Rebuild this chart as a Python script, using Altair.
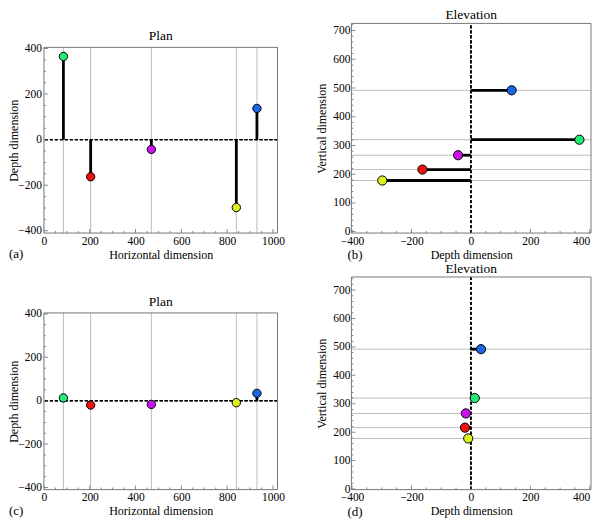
import altair as alt
import pandas as pd

FONT = "Liberation Serif"

# ---- data ----
names = ["green", "red", "purple", "yellow", "blue"]
colors = ["#22ee77", "#ee1111", "#cc11ee", "#ddf020", "#1a66e6"]
horizontal = [85, 204, 469, 840, 930]
vertical = [320, 216, 266, 178, 492]
depth_before = [365, -163, -43, -298, 137]
depth_after = [13, -20, -17, -9, 34]

horiz_ticks = [0, 200, 400, 600, 800, 1000]
depth_ticks = [-400, -200, 0, 200, 400]
vert_ticks = [0, 100, 200, 300, 400, 500, 600, 700]
horiz_minor = [v for v in range(0, 1001, 50) if v % 200]
depth_minor = [v for v in range(-400, 401, 50) if v % 200]
vert_minor = [v for v in range(0, 741, 20) if v % 100]

panel_labels = ["(a)", "(b)", "(c)", "(d)"]
panel_titles = ["Plan", "Elevation"]

# axis extents of each panel
plan_x_domain = [0, 1020]
plan_y_domain = [-410, 405]
elev_x_domain = [-402, 404]
elev_y_domain_b = [-5, 725]
elev_y_domain_d = [-2, 746]

dummy = pd.DataFrame({"d": [0]})


def make_axis(title, values, pad, title_x=None, title_y=None, label_align=None):
    kw = dict(
        title=title, values=values, grid=False, ticks=False, tickSize=0, domain=False,
        labelFont=FONT, labelFontSize=11.5, labelColor="black", labelPadding=pad,
        labelFlush=False, labelOverlap=False, format="d",
        titleFont=FONT, titleFontSize=12, titleFontWeight="normal", titleColor="black",
    )
    if title_x is not None:
        kw["titleX"] = title_x
    if title_y is not None:
        kw["titleY"] = title_y
    if label_align is not None:
        kw["labelAlign"] = label_align
    return alt.Axis(**kw)


def tick_layers(xs, xax, ys, yax, xmaj, xmin, ymaj, ymin, Hv):
    out = []
    for vals, size in ((xmaj, 8), (xmin, 4)):
        out.append(
            alt.Chart(pd.DataFrame({"v": vals}))
            .mark_tick(size=size, thickness=1, color="#555", clip=True)
            .encode(x=alt.X("v:Q", scale=xs, axis=xax), y=alt.value(Hv))
        )
    for vals, size in ((ymaj, 8), (ymin, 4)):
        out.append(
            alt.Chart(pd.DataFrame({"v": vals}))
            .mark_tick(size=size, thickness=1, color="#555", clip=True)
            .encode(y=alt.Y("v:Q", scale=ys, axis=yax), x=alt.value(0))
        )
    return out


def spacer(x1, y1, x2, y2):
    # invisible layout guide that fixes the panel's outer extent
    return alt.Chart(dummy).mark_rule(strokeOpacity=0, opacity=0).encode(
        x=alt.value(x1), x2=alt.value(x2), y=alt.value(y1), y2=alt.value(y2)
    )


def text_layer(text, x, y, size, align="left"):
    return alt.Chart(pd.DataFrame({"lab": [text]})).mark_text(
        align=align, baseline="alphabetic", font=FONT, fontSize=size, color="black"
    ).encode(text="lab:N", x=alt.value(x), y=alt.value(y))


def color_enc():
    return alt.Color("name:N", scale=alt.Scale(domain=names, range=colors), legend=None)


def frame_layer(xdom, ydom, xs, xax, ys, yax):
    fdf = pd.DataFrame({"x0": [xdom[0]], "x1": [xdom[1]], "y0": [ydom[0]], "y1": [ydom[1]]})
    return alt.Chart(fdf).mark_rect(fill="white", fillOpacity=0, stroke="#777", strokeWidth=1).encode(
        x=alt.X("x0:Q", scale=xs, axis=xax), x2="x1:Q",
        y=alt.Y("y0:Q", scale=ys, axis=yax), y2="y1:Q",
    )


def plan_panel(depth, label, Hv, ft, Hf):
    W = 234
    xs = alt.Scale(domain=plan_x_domain, nice=False, zero=False)
    ys = alt.Scale(domain=plan_y_domain, range=[ft + Hf, ft], nice=False, zero=False)
    xax = make_axis("Horizontal dimension", horiz_ticks, 2, title_y=16)
    yax = make_axis("Depth dimension", depth_ticks, 2.5, title_x=-23, title_y=ft + Hf / 2)
    df = pd.DataFrame({
        "name": names, "horiz": horizontal, "depth": depth, "zero": 0,
        "ylo": plan_y_domain[0], "yhi": plan_y_domain[1],
    })
    base = alt.Chart(df)
    X = alt.X("horiz:Q", scale=xs, axis=xax)
    grid = base.mark_rule(color="#bdbdbd", strokeWidth=1).encode(
        x=X, y=alt.Y("ylo:Q", scale=ys, axis=yax), y2="yhi:Q"
    )
    zero = base.mark_rule(color="black", strokeDash=[3, 2], strokeWidth=1).encode(
        y=alt.Y("zero:Q", scale=ys, axis=yax)
    )
    stems = base.mark_rule(color="black", strokeWidth=2.8).encode(
        x=X, y=alt.Y("zero:Q", scale=ys, axis=yax), y2="depth:Q"
    )
    pts = base.mark_circle(size=70, opacity=1, stroke="black", strokeWidth=1).encode(
        x=X, y=alt.Y("depth:Q", scale=ys, axis=yax), color=color_enc()
    )
    layers = [grid, zero, stems, pts]
    layers += tick_layers(xs, xax, ys, yax, horiz_ticks, horiz_minor, depth_ticks, depth_minor, Hv)
    layers.append(frame_layer(plan_x_domain, plan_y_domain, xs, xax, ys, yax))
    layers.append(text_layer(panel_titles[0], W / 2, ft - 7, 13.5, "center"))
    layers.append(text_layer(label, -35, Hv + 25, 13))
    layers.append(spacer(-35, -15, 255, Hv + 29))
    return alt.layer(*layers).properties(width=W, height=Hv)


def elev_panel(depth, label, Hv, ydom):
    W = 240
    xs = alt.Scale(domain=elev_x_domain, nice=False, zero=False)
    ys = alt.Scale(domain=ydom, range=[Hv, 0], nice=False, zero=False)
    last_right = {"condition": {"test": "datum.value >= 400", "value": "right"}, "value": "center"}
    xax = make_axis("Depth dimension", depth_ticks, 2, title_y=16, label_align=last_right)
    yax = make_axis("Vertical dimension", vert_ticks, 1.5, title_x=-23, title_y=Hv / 2)
    df = pd.DataFrame({
        "name": names, "vert": vertical, "depth": depth, "zero": 0,
        "xlo": elev_x_domain[0], "xhi": elev_x_domain[1],
        "ylo": ydom[0], "yhi": ydom[1],
    })
    base = alt.Chart(df)
    Y = alt.Y("vert:Q", scale=ys, axis=yax)
    grid = base.mark_rule(color="#bdbdbd", strokeWidth=1).encode(
        y=Y, x=alt.X("xlo:Q", scale=xs, axis=xax), x2="xhi:Q"
    )
    zero = base.mark_rule(color="black", strokeDash=[3, 2], strokeWidth=1).encode(
        x=alt.X("zero:Q", scale=xs, axis=xax), y=alt.Y("ylo:Q", scale=ys, axis=yax), y2="yhi:Q"
    )
    stems = base.mark_rule(color="black", strokeWidth=2.8).encode(
        y=Y, x=alt.X("zero:Q", scale=xs, axis=xax), x2="depth:Q"
    )
    pts = base.mark_circle(size=85, opacity=1, stroke="black", strokeWidth=1).encode(
        y=Y, x=alt.X("depth:Q", scale=xs, axis=xax), color=color_enc()
    )
    layers = [grid, zero, stems, pts]
    layers += tick_layers(xs, xax, ys, yax, depth_ticks, depth_minor, vert_ticks, vert_minor, Hv)
    layers.append(frame_layer(elev_x_domain, ydom, xs, xax, ys, yax))
    layers.append(text_layer(panel_titles[1], W / 2, -4, 13.5, "center"))
    layers.append(text_layer(label, -4, Hv + 26, 13))
    layers.append(spacer(-53, -15, 10, Hv + 29))
    return alt.layer(*layers).properties(width=W, height=Hv)


# row 1 views: 210 px tall; row 2 views: 213 px tall
pa = plan_panel(depth_before, panel_labels[0], 210, 24, 186)
pc = plan_panel(depth_after, panel_labels[2], 213, 36, 177)
pb = elev_panel(depth_before, panel_labels[1], 210, elev_y_domain_b)
pd_ = elev_panel(depth_after, panel_labels[3], 213, elev_y_domain_d)

left = alt.vconcat(pa, pc, spacing=0)
right = alt.vconcat(pb, pd_, spacing=0)
chart = alt.hconcat(left, right, spacing=0).properties(padding=0).configure_view(
    stroke=None
)

chart.save("out.html", embed_options={"renderer": "svg", "actions": False})
